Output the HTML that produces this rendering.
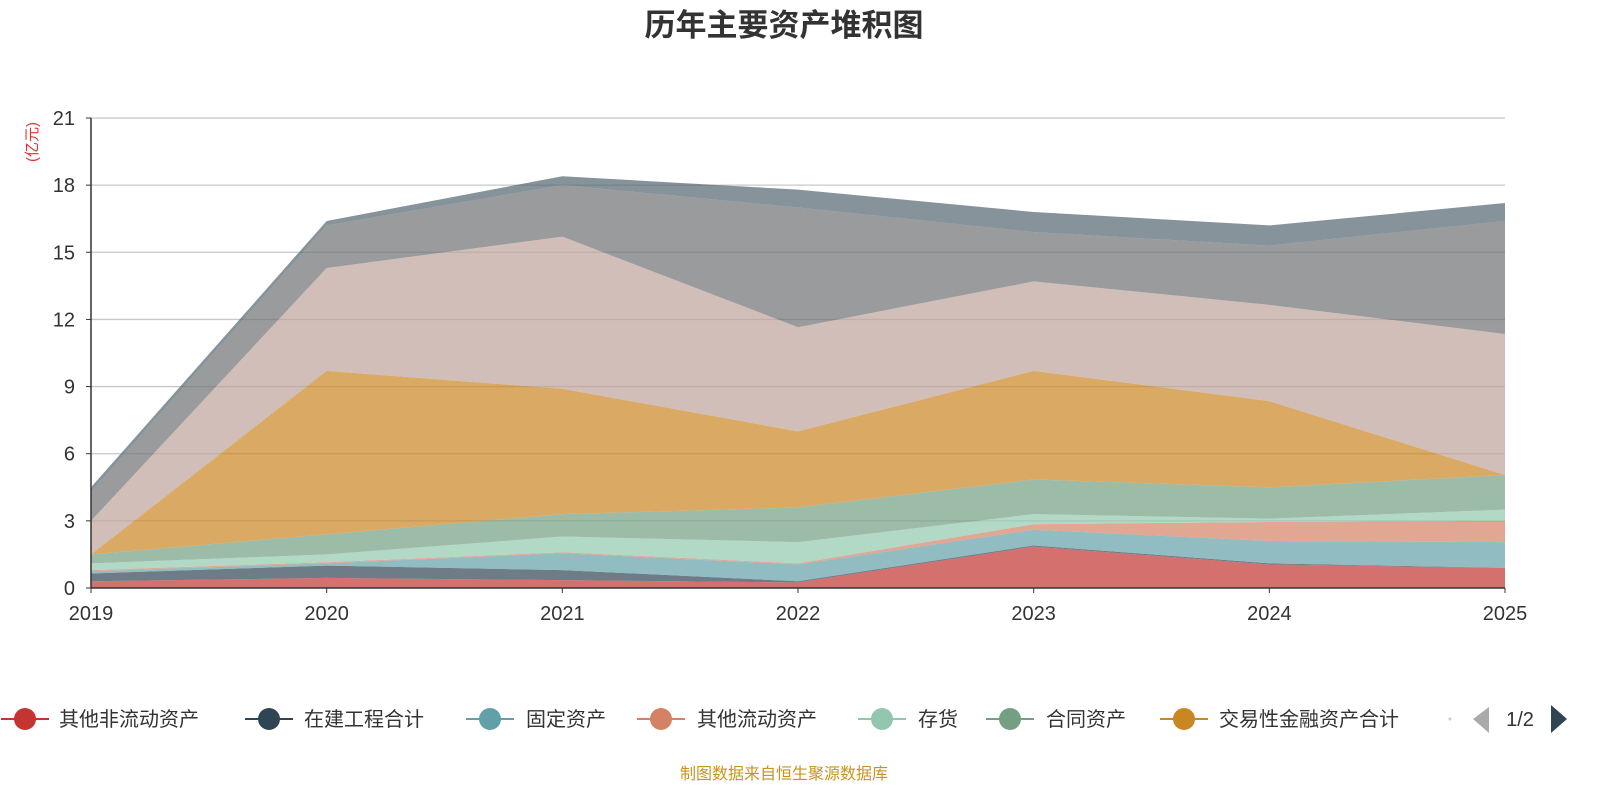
<!DOCTYPE html>
<html><head><meta charset="utf-8"><style>
body{margin:0;background:#fff;}
svg{display:block;font-family:"Liberation Sans","Noto Sans CJK SC",sans-serif;}
</style></head><body>
<svg id="c" width="1600" height="800">
<text x="784" y="36" text-anchor="middle" font-size="31" font-weight="bold" fill="#333">历年主要资产堆积图</text>
<text transform="translate(37,142) rotate(-90)" text-anchor="middle" font-size="15" fill="#e03030">(亿元)</text>
<g id="grid"></g><g id="areas"></g><g id="axes"></g><g id="legend"></g>
<text x="784" y="779" text-anchor="middle" font-size="16" fill="#c8941e">制图数据来自恒生聚源数据库</text>
</svg>
<script>
const years=["2019","2020","2021","2022","2023","2024","2025"];
const yTicks=[0,3,6,9,12,15,18,21];
const seriesNames=["其他非流动资产","在建工程合计","固定资产","其他流动资产","存货","合同资产","交易性金融资产合计","其他1","其他2","其他3"];
const colors=["#c23531","#2f4554","#61a0a8","#d48265","#91c7ae","#749f83","#ca8622","#bda29a","#6e7074","#546570"];
const s1=[0.3,0.45,0.35,0.25,1.85,1.05,0.9];
const s2=[0.35,0.55,0.45,0.05,0.05,0.05,0.0];
const s3=[0.1,0.1,0.75,0.75,0.7,1.0,1.15];
const s4=[0.05,0.05,0.05,0.05,0.25,0.85,0.95];
const s5=[0.3,0.35,0.7,0.95,0.45,0.15,0.5];
const s6=[0.4,0.9,1.0,1.55,1.55,1.4,1.55];
const s7=[0.0,7.3,5.6,3.4,4.85,3.85,0.0];
const s8=[1.5,4.6,6.8,4.65,4.0,4.3,6.3];
const s9=[1.3,1.9,2.3,5.35,2.2,2.65,5.05];
const s10=[0.2,0.2,0.4,0.8,0.9,0.9,0.8];
const series=[s1,s2,s3,s4,s5,s6,s7,s8,s9,s10];
const NS="http://www.w3.org/2000/svg";
const X0=91,X1=1505,Y0=588,Y1=118,YMAX=21;
const xs=i=>X0+(X1-X0)*i/(years.length-1);
const ys=v=>Y0-(Y0-Y1)*v/YMAX;
function mk(t,a,p){const e=document.createElementNS(NS,t);for(const k in a)e.setAttribute(k,a[k]);p.appendChild(e);return e;}
const grid=document.getElementById('grid'),axes=document.getElementById('axes'),areas=document.getElementById('areas'),leg=document.getElementById('legend');
yTicks.forEach(v=>{
  if(v>0){const l=mk('line',{x1:X0,x2:X1,y1:ys(v),y2:ys(v),stroke:'#c8c8c8','stroke-width':1.3},grid);
  
  }
  const t=mk('text',{x:75,y:ys(v)+7,'text-anchor':'end','font-size':20,fill:'#333'},axes);t.textContent=v;
  
  
  mk('line',{x1:X0-5,x2:X0,y1:ys(v),y2:ys(v),stroke:'#333'},axes);
});
let cum=years.map(()=>0);
series.forEach((s,k)=>{
  const lo=cum.slice();cum=cum.map((c,i)=>c+s[i]);
  let d='M'+years.map((_,i)=>xs(i)+','+ys(cum[i])).join('L');
  for(let i=years.length-1;i>=0;i--)d+='L'+xs(i)+','+ys(lo[i]);
  const p=mk('path',{d:d+'Z',fill:colors[k],'fill-opacity':0.7,stroke:'none'},areas);
  
  
});
mk('line',{x1:X0,x2:X0,y1:Y1,y2:Y0,stroke:'#333','stroke-width':1.5},axes);
mk('line',{x1:X0,x2:X1,y1:Y0,y2:Y0,stroke:'#333','stroke-width':1.5},axes);
years.forEach((y,i)=>{
  mk('line',{x1:xs(i),x2:xs(i),y1:Y0,y2:Y0+5,stroke:'#333'},axes);
  const t=mk('text',{x:xs(i),y:620,'text-anchor':'middle','font-size':20,fill:'#333'},axes);t.textContent=y;
  
  
});
const lx=[25,269,490,661,882,1010,1184],tx=[59,304,526,697,918,1046,1219];
for(let k=0;k<7;k++){
  const g=mk('g',{},leg);
  
  
  mk('line',{x1:lx[k]-24,x2:lx[k]+24,y1:719,y2:719,stroke:colors[k],'stroke-width':2},g);
  mk('circle',{cx:lx[k],cy:719,r:11,fill:colors[k]},g);
  const t=mk('text',{x:tx[k],y:726,'font-size':20,fill:'#333'},g);t.textContent=seriesNames[k];
}
mk('circle',{cx:1450,cy:719,r:1.5,fill:'#ccc'},leg);
const pl=mk('path',{d:'M1489,707L1473,719L1489,733Z',fill:'#aaa'},leg);


const pt=mk('text',{x:1520,y:726,'text-anchor':'middle','font-size':20,fill:'#333'},leg);pt.textContent='1/2';


const pr=mk('path',{d:'M1551,705L1567,719L1551,733Z',fill:'#2f4554'},leg);


</script>
</body></html>
